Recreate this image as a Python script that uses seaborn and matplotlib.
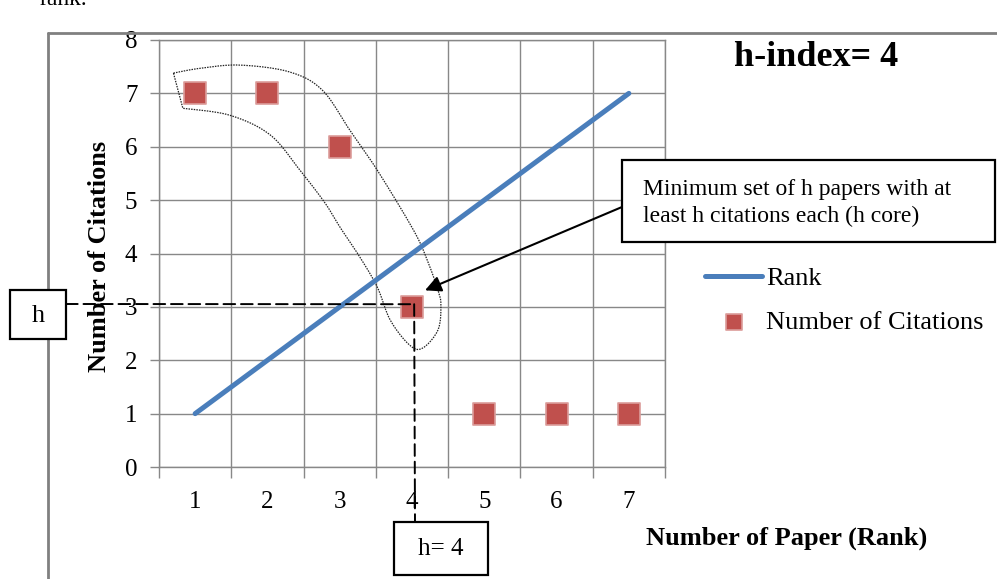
import numpy as np
import matplotlib
matplotlib.use("Agg")
import matplotlib.pyplot as plt
from matplotlib.patches import Rectangle, ConnectionPatch
from matplotlib.lines import Line2D
import seaborn as sns

# ---- data ----
paper_rank = [1, 2, 3, 4, 5, 6, 7]
rank_line = [1, 2, 3, 4, 5, 6, 7]
citations = [7, 7, 6, 3, 1, 1, 1]
y_ticks = [0, 1, 2, 3, 4, 5, 6, 7, 8]
h_index = 4
h_citations = 3

# outline of the h-core (annotation shape, data units)
hull_x = [0.70, 1.07, 1.62, 2.31, 2.76, 3.14, 3.52, 4.02, 4.21, 4.36, 4.40, 4.36,
          4.15, 3.97, 3.70, 3.52, 3.28, 3.01, 2.80, 2.45, 2.04, 1.48, 0.83]
hull_y = [7.38, 7.47, 7.53, 7.40, 7.06, 6.31, 5.56, 4.44, 3.88, 3.31, 3.03, 2.57,
          2.23, 2.28, 2.75, 3.37, 3.93, 4.48, 4.94, 5.56, 6.22, 6.59, 6.72]

W, H = 997, 579
def fx(px):
    return px / W
def fy(py):
    return 1 - py / H

sns.set_style("white")
plt.rcParams["font.family"] = ["Liberation Serif", "DejaVu Serif"]
plt.rcParams["text.color"] = "black"
plt.rcParams["axes.labelcolor"] = "black"
plt.rcParams["xtick.color"] = "black"
plt.rcParams["ytick.color"] = "black"

fig = plt.figure(figsize=(W / 100, H / 100), dpi=100)
fig.patch.set_facecolor("white")
ax = fig.add_axes([fx(159), fy(467), fx(665) - fx(159), fy(40) - fy(467)])

blue = "#4A7EBB"
red = "#C0504D"
grid_c = "#888888"

sns.lineplot(x=paper_rank, y=rank_line, ax=ax, color=blue, linewidth=3.6,
             label="Rank", solid_capstyle="round", zorder=3)
sns.scatterplot(x=paper_rank, y=citations, ax=ax, marker="s", s=230, color=red,
                edgecolor="#DB9C9A", linewidth=1.2, label="Number of Citations", zorder=4)

ax.set_xlim(0.5, 7.5)
ax.set_ylim(0, 8)
ax.set_xticks(paper_rank)
ax.set_xticklabels([str(v) for v in paper_rank])
ax.set_xticks(np.arange(0.5, 8.0, 1.0), minor=True)
ax.set_yticks(y_ticks)
ax.set_yticklabels([str(v) for v in y_ticks])

ax.grid(False)
ax.xaxis.grid(True, which="minor", color=grid_c, linewidth=1.0)
ax.yaxis.grid(True, which="major", color=grid_c, linewidth=1.0)
ax.set_axisbelow(True)
for s in ax.spines.values():
    s.set_color(grid_c)
    s.set_linewidth(1.0)

ax.tick_params(axis="x", which="major", length=0, pad=17, labelsize=18, labelcolor="black")
ax.tick_params(axis="x", which="minor", length=8, width=1.0, color=grid_c, direction="out", bottom=True)
ax.tick_params(axis="y", which="major", length=6.5, width=1.0, color=grid_c, direction="out",
               left=True, pad=9, labelsize=18, labelcolor="black")

ax.set_ylabel("Number of Citations", fontsize=19, fontweight="bold", color="black")
ax.yaxis.label.set_va("center")
ax.yaxis.set_label_coords(-0.117, 0.494)
ax.set_xlabel("Number of Paper (Rank)", fontsize=19, fontweight="bold", color="black")
ax.xaxis.label.set_va("center")
ax.xaxis.set_label_coords(1.241, -0.166)

# legend
handles, labels = ax.get_legend_handles_labels()
leg = ax.legend(handles, labels, loc="upper left", bbox_to_anchor=(fx(705), fy(267)),
                bbox_transform=fig.transFigure, frameon=False, fontsize=19,
                borderpad=0, borderaxespad=0, handlelength=2.16, handletextpad=0.15,
                labelspacing=0.76, markerscale=0.8, labelcolor="black")

# hull outline (smoothed through the listed points)
def catmull(xs, ys, n=12):
    P = np.column_stack([xs, ys])
    P = np.vstack([P[0], P, P[-1]])
    out = []
    for i in range(1, len(P) - 2):
        p0, p1, p2, p3 = P[i - 1], P[i], P[i + 1], P[i + 2]
        for t in np.linspace(0, 1, n, endpoint=False):
            t2, t3 = t * t, t * t * t
            out.append(0.5 * ((2 * p1) + (-p0 + p2) * t + (2 * p0 - 5 * p1 + 4 * p2 - p3) * t2
                              + (-p0 + 3 * p1 - 3 * p2 + p3) * t3))
    out.append(P[-2])
    out.append(P[1])
    out = np.array(out)
    return out[:, 0], out[:, 1]

hx, hy = catmull(hull_x, hull_y)
ax.plot(hx, hy, color="#222222", linewidth=0.9, linestyle=(0, (1.2, 0.9)), zorder=2, clip_on=False)

# dashed guide lines to the h point
dash = (0, (6, 3))
fig.add_artist(ConnectionPatch(xyA=(fx(66), fy(304)), coordsA=fig.transFigure,
                               xyB=(h_index, h_citations + 0.05), coordsB=ax.transData,
                               linestyle=dash, color="black", linewidth=1.4, zorder=5))
fig.add_artist(ConnectionPatch(xyA=(h_index + 0.03, h_citations + 0.05), coordsA=ax.transData,
                               xyB=(fx(415), fy(522)), coordsB=fig.transFigure,
                               linestyle=dash, color="black", linewidth=1.4, zorder=5))

# boxes
def box(x0, y0, x1, y1, lw=1.6):
    r = Rectangle((fx(x0), fy(y1)), fx(x1) - fx(x0), fy(y0) - fy(y1), transform=fig.transFigure,
                  facecolor="white", edgecolor="black", linewidth=lw, zorder=6)
    fig.add_artist(r)

box(10, 290, 66, 339)
fig.text(fx(38), fy(316), "h", fontsize=19, ha="center", va="center", zorder=7)
box(394, 522, 488, 575)
fig.text(fx(441), fy(549), "h= 4", fontsize=18, ha="center", va="center", zorder=7)
box(622, 160, 995, 242)
fig.text(fx(643), fy(203), "Minimum set of h papers with at\nleast h citations each (h core)",
         fontsize=17, ha="left", va="center", linespacing=1.35, zorder=7)

# arrow
ax.annotate("", xy=(4.18, 3.31), xycoords="data", xytext=(fx(622), fy(207)),
            textcoords="figure fraction",
            arrowprops=dict(arrowstyle="-|>", color="black", lw=1.5, mutation_scale=24,
                            shrinkA=0, shrinkB=0), zorder=8, annotation_clip=False)

# title
fig.text(fx(816), fy(57), "h-index= 4", fontsize=26, fontweight="bold", ha="center", va="center")

# outer frame of the embedded chart
fig.add_artist(Line2D([fx(48), fx(48)], [fy(33), 0], transform=fig.transFigure, color="#808080", linewidth=2.0))
fig.add_artist(Line2D([fx(48), 1], [fy(33), fy(33)], transform=fig.transFigure, color="#808080", linewidth=2.0))

# caption text running off the top edge, as in the source
fig.text(fx(40), fy(5), "rank.", fontsize=17, ha="left", va="baseline")

fig.savefig("out.png", dpi=100, facecolor="white")
